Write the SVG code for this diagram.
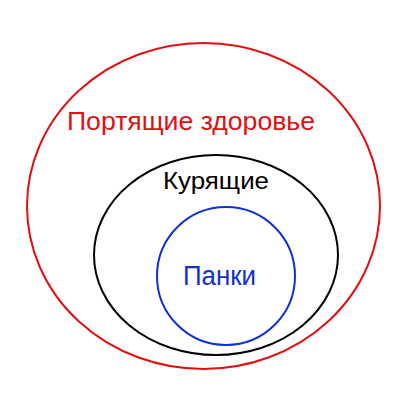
<svg xmlns="http://www.w3.org/2000/svg" width="400" height="400" viewBox="0 0 400 400">
<style>
.s{fill:none;stroke-width:2}
text{font-family:"Liberation Sans",Arial,sans-serif}
</style>
<rect width="400" height="400" fill="#fff"/>
<g id="health">
<ellipse class="s" cx="203.5" cy="206" rx="176.5" ry="163" stroke="#e01010"/>
<text x="67" y="130" font-size="25" textLength="248" lengthAdjust="spacingAndGlyphs" fill="#e01010">Портящие здоровье</text>
</g>
<g id="smokers">
<ellipse class="s" cx="216" cy="255" rx="122" ry="100" stroke="#000"/>
<text x="163" y="189" font-size="24" textLength="106" lengthAdjust="spacingAndGlyphs" fill="#000">Курящие</text>
</g>
<g id="punks">
<circle class="s" cx="226" cy="276" r="69" stroke="#1030d0"/>
<text x="183" y="285" font-size="27" textLength="73" lengthAdjust="spacingAndGlyphs" fill="#1030d0">Панки</text>
</g>
<g id="connectors"/>
</svg>
